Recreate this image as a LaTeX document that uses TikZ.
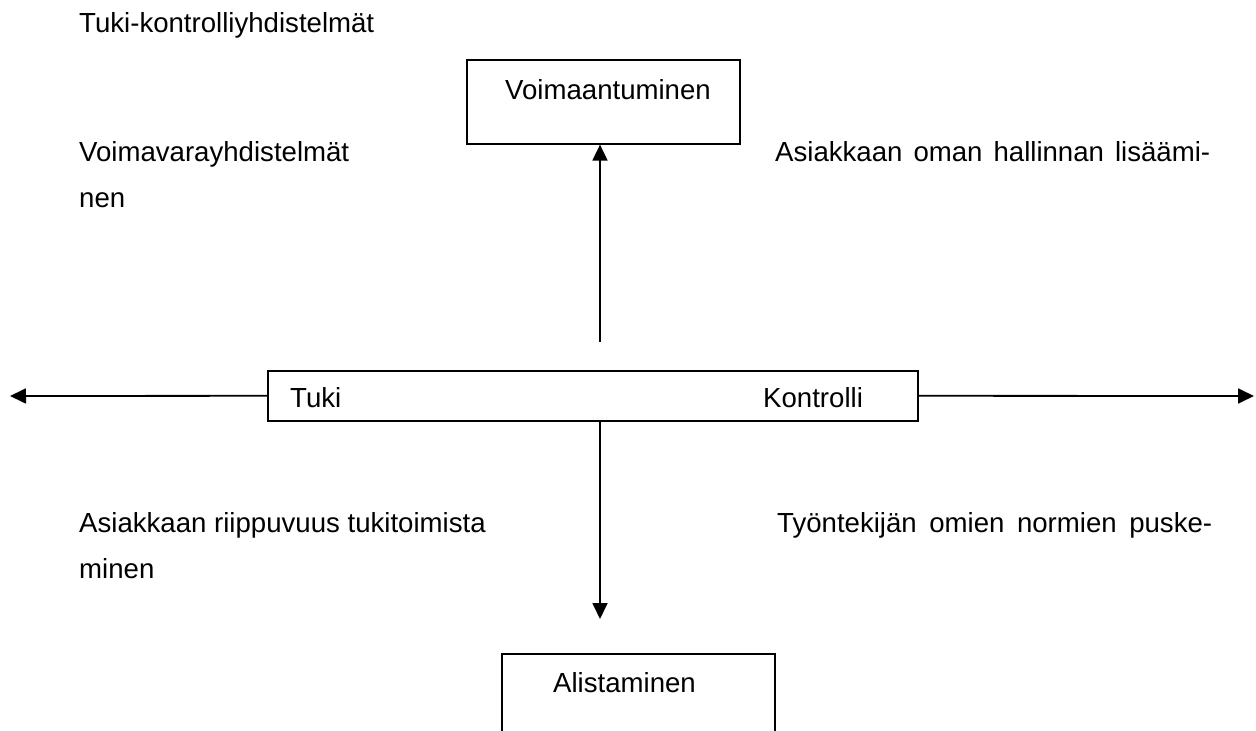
\documentclass[tikz,border=0pt]{standalone}
\usepackage{fontspec}
\setmainfont{Liberation Sans}
\usetikzlibrary{arrows.meta}
\tikzset{
  box/.style={draw, line width=1.6pt, minimum width=#1, anchor=north west, inner sep=0pt},
  lab/.style={anchor=base west, inner sep=0pt, font=\fontsize{27.6}{33}\selectfont},
  conn/.style={line width=1.8pt, -{Triangle[length=16pt,width=15pt]}}
}
\begin{document}
\begin{tikzpicture}[x=1pt,y=-1pt]
\useasboundingbox (0,0) rectangle (1256,731);
\clip (0,0) rectangle (1256,731);
% title
\node[lab] (title) at (79,32) {Tuki-kontrolliyhdistelmät};
% top box
\node[box=273pt, minimum height=84pt] (top) at (466,59) {};
\node[lab] (toplab) at (505,99) {Voimaantuminen};
% center box
\node[box=650pt, minimum height=50pt] (mid) at (267,370) {};
\node[lab] (tuki) at (290,407) {Tuki};
\node[lab] (kontrolli) at (763,407) {Kontrolli};
% bottom box (open at the bottom)
\node[box=273pt, minimum height=110pt] (bot) at (501,653) {};
\node[lab] (botlab) at (553,692) {Alistaminen};
% side texts
\node[lab] (vv) at (79,161) {Voimavarayhdistelmät};
\node[lab] (nen) at (79,207) {nen};
\node[lab] (aol) at (775,161) {\makebox[435pt][s]{Asiakkaan oman hallinnan lisäämi-}};
\node[lab] (art) at (79,532) {Asiakkaan riippuvuus tukitoimista};
\node[lab] (min) at (79,578) {minen};
\node[lab] (ton) at (777,532) {\makebox[435pt][s]{Työntekijän omien normien puske-}};
% connectors
\coordinate (upstart) at (600,342);
\coordinate (downend) at (600,619);
\coordinate (leftend) at (10,396);
\coordinate (rightend) at (1254,396);
\draw[conn] (upstart) -- (upstart |- top.south);
\draw[conn] (downend |- mid.south) -- (downend);
\draw[conn] (mid.west) -- (leftend);
\draw[conn] (mid.east) -- (rightend);
\end{tikzpicture}
\end{document}
